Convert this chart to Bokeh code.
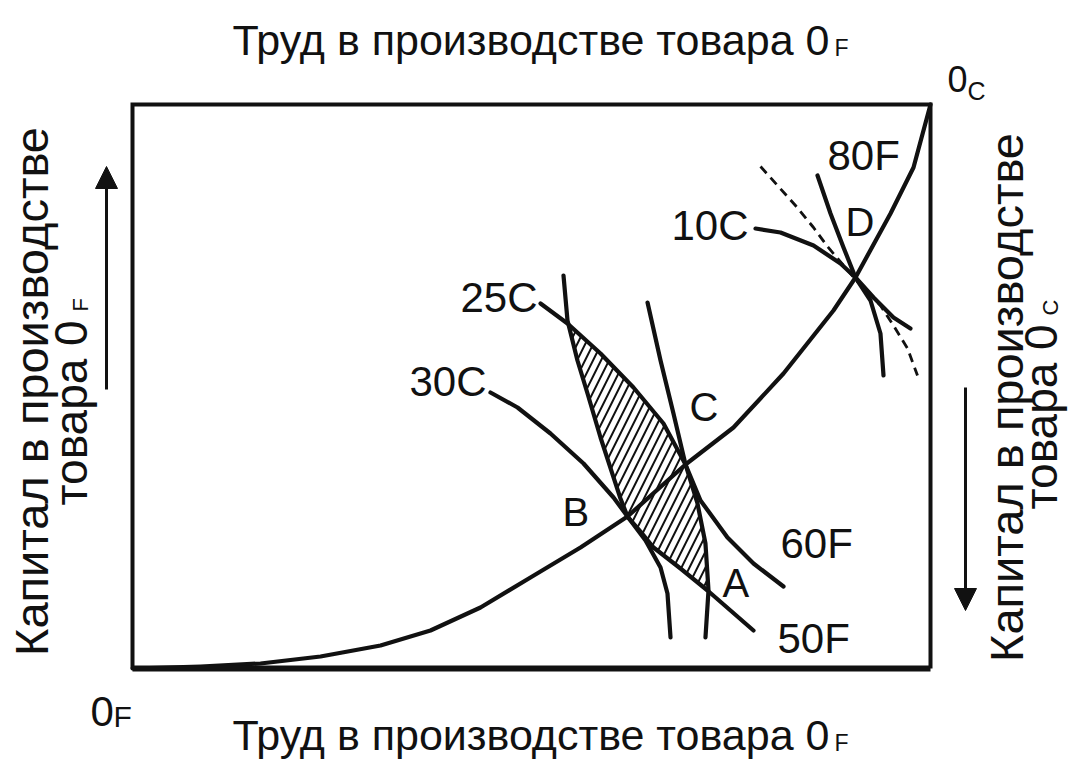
import math
from bokeh.plotting import figure
from bokeh.models import Range1d, Label, Arrow, NormalHead
from bokeh.embed import file_html
from bokeh.resources import INLINE

# ---------------- data (labour on x, capital on y; box = 0..100 each) ----------------
CONTRACT_L = [0, 8.52, 16.04, 23.56, 31.08, 37.34, 43.61, 49.87, 56.14, 62.03, 69.30, 75.31, 81.58, 87.84, 90.60, 94.99, 97.87, 100]
CONTRACT_K = [0, 0.35, 0.89, 2.13, 4.08, 6.74, 10.82, 16.13, 21.45, 26.95, 36.17, 42.73, 52.30, 63.48, 69.33, 80.67, 88.83, 100]

ISO_30C_L = [44.86, 48.25, 52.38, 56.52, 60.28, 62.03, 64.29, 66.17, 67.04, 67.42]
ISO_30C_K = [48.94, 46.28, 41.67, 36.35, 30.32, 26.95, 22.70, 17.91, 13.30, 5.50]

ISO_25C_L = [51.13, 54.51, 58.65, 62.78, 66.54, 69.30, 70.80, 71.80, 72.18, 71.80]
ISO_25C_K = [64.72, 61.17, 55.85, 49.82, 43.44, 36.17, 29.26, 22.16, 13.83, 5.50]

ISO_50F_L = [54.01, 54.51, 55.76, 57.02, 58.65, 60.28, 61.15, 62.03, 63.66, 65.29, 68.67, 72.06, 77.82]
ISO_50F_K = [69.68, 61.70, 54.61, 48.76, 40.96, 33.87, 30.14, 26.95, 24.29, 21.45, 17.73, 13.83, 6.74]

ISO_60F_L = [64.54, 66.17, 67.79, 69.30, 71.18, 74.56, 77.82, 81.58]
ISO_60F_K = [64.89, 54.61, 45.21, 36.17, 29.79, 23.23, 18.62, 14.54]

ISO_80F_L = [85.84, 87.47, 89.10, 90.60, 92.86, 95.36, 97.49]
ISO_80F_K = [87.41, 80.67, 74.65, 69.33, 65.78, 62.23, 60.28]

ISO_10C_L = [78.07, 81.20, 85.34, 88.72, 90.60, 92.48, 93.73, 94.11]
ISO_10C_K = [78.01, 77.30, 75.00, 71.81, 69.33, 65.25, 59.40, 51.95]

TANGENT_L = [78.70, 80.83, 83.08, 85.34, 87.09, 90.60, 93.73, 95.36, 97.12, 98.37]
TANGENT_K = [89.01, 85.64, 82.09, 78.19, 74.82, 68.97, 64.36, 60.82, 56.74, 51.95]

BOX_L = [0, 100]
BOX_K = [0, 100]

CURVE_LABELS = ["25C", "30C", "10C", "80F", "60F", "50F"]
POINT_LABELS = ["A", "B", "C", "D"]
TITLE = "Труд в производстве товара 0"
SIDE_1 = "Капитал в производстве"
SIDE_2 = "товара 0"

# ---------------- page geometry ----------------
W, H = 1070, 765
BLp, BRp, BTp, BBp = 132, 930, 104, 668     # box edges on the page (px)
SX = (BRp - BLp) / (BOX_L[1] - BOX_L[0])
SY = (BBp - BTp) / (BOX_K[1] - BOX_K[0])


def X(px):
    return BOX_L[0] + (px - BLp) / SX


def Y(py):
    return BOX_K[0] + (BBp - py) / SY


p = figure(width=W, height=H, output_backend="svg", toolbar_location=None, tools="",
           x_range=Range1d(X(0), X(W)), y_range=Range1d(Y(H), Y(0)),
           x_axis_location=None, y_axis_location=None, min_border=0)
p.grid.visible = False
p.outline_line_color = None
p.background_fill_color = "white"
p.border_fill_color = "white"

FONT = "Liberation Sans"
INK = "#111111"

# shaded lens between 50F and 25C
lens_L = ISO_50F_L[1:12] + ISO_25C_L[1:9][::-1]
lens_K = ISO_50F_K[1:12] + ISO_25C_K[1:9][::-1]
p.patch(lens_L, lens_K, fill_color="white", fill_alpha=0, line_color=None,
        hatch_pattern="/", hatch_color=INK, hatch_weight=2, hatch_scale=16)

curve_kw = dict(line_color=INK, line_width=4.2, line_cap="round", line_join="round")
for xs, ys in [(CONTRACT_L, CONTRACT_K), (ISO_30C_L, ISO_30C_K), (ISO_25C_L, ISO_25C_K),
               (ISO_50F_L, ISO_50F_K), (ISO_60F_L, ISO_60F_K), (ISO_80F_L, ISO_80F_K),
               (ISO_10C_L, ISO_10C_K)]:
    p.line(xs, ys, **curve_kw)
p.line(TANGENT_L, TANGENT_K, line_color=INK, line_width=2.8, line_dash="9 6")

# Edgeworth box
p.line([BOX_L[0], BOX_L[0], BOX_L[1], BOX_L[1]], [BOX_K[0], BOX_K[1], BOX_K[1], BOX_K[0]],
       line_color=INK, line_width=4, line_join="miter")
p.line([BOX_L[0], BOX_L[1]], [BOX_K[0], BOX_K[0]], line_color=INK, line_width=6)

# arrows
p.add_layout(Arrow(end=NormalHead(size=22, fill_color=INK, line_color=INK),
                   x_start=X(106), y_start=Y(389), x_end=X(106), y_end=Y(166),
                   line_width=3, line_color=INK))
p.add_layout(Arrow(end=NormalHead(size=22, fill_color=INK, line_color=INK),
                   x_start=X(965), y_start=Y(387), x_end=X(965), y_end=Y(610),
                   line_width=3, line_color=INK))

SHIFT = 0.4   # renderer places the text this many ems below the anchor


def lab(text, px, py, size, align="left", rotated=False):
    """px, py: page position of the text baseline."""
    if rotated:
        ax, ay, ang = px - SHIFT * size, py, math.pi / 2
    else:
        ax, ay, ang = px, py - SHIFT * size, 0.0
    p.add_layout(Label(x=X(ax), y=Y(ay), text=text, text_font=FONT, text_font_size=f"{size}px",
                       text_align=align, text_baseline="alphabetic", text_color=INK,
                       angle=ang))


# curve labels
lab(CURVE_LABELS[0], 537, 314, 42, align="right")
lab(CURVE_LABELS[1], 486, 398, 42, align="right")
lab(CURVE_LABELS[2], 748, 242, 42, align="right")
lab(CURVE_LABELS[3], 827, 172, 42)
lab(CURVE_LABELS[4], 780, 560, 42)
lab(CURVE_LABELS[5], 777, 655, 42)
# point labels
lab(POINT_LABELS[0], 722, 598, 40)
lab(POINT_LABELS[1], 562, 527, 40)
lab(POINT_LABELS[2], 689, 422, 40)
lab(POINT_LABELS[3], 845, 237, 40)

# origins
lab("0", 947, 93, 36)
lab("C", 967, 100, 25)
lab("0", 90, 728, 42)
lab("F", 113, 728, 30)

# horizontal titles
lab(TITLE, 232, 57, 43)
lab("F", 834, 57, 23)
lab(TITLE, 232, 752, 43)
lab("F", 834, 752, 23)

# vertical titles
lab(SIDE_1, 50, 391, 47, align="center", rotated=True)
lab(SIDE_2, 89, 505, 46, align="left", rotated=True)
lab("F", 89, 311, 22, align="left", rotated=True)
lab(SIDE_1, 1025, 397, 47, align="center", rotated=True)
lab(SIDE_2, 1059, 509, 46, align="left", rotated=True)
lab("C", 1059, 315, 22, align="left", rotated=True)

open("out.html", "w").write(file_html(p, INLINE))
